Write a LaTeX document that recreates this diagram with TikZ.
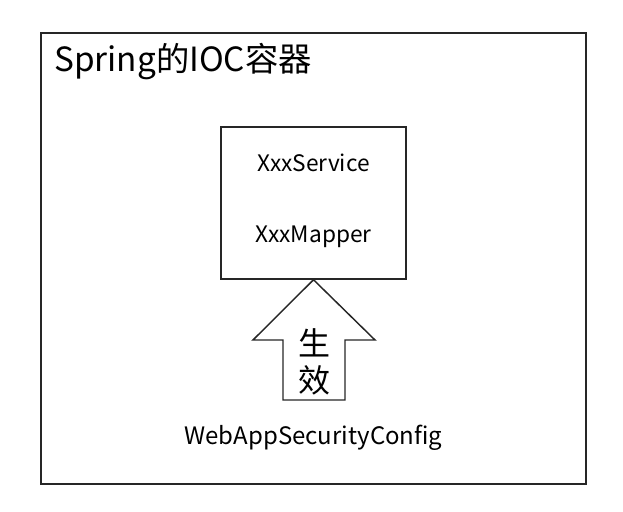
\documentclass[tikz,border=0pt]{standalone}
\usepackage{fontspec}
\setmainfont{Noto Sans CJK SC}
\usetikzlibrary{positioning, calc}

\begin{document}
\begin{tikzpicture}[
    x=0.75pt, y=-0.75pt,
    frame/.style={draw=black!85, line width=1.1pt},
    bean/.style={font=\fontsize{17}{20}\selectfont, inner sep=0pt},
    effect/.style={font=\fontsize{24}{27}\selectfont, inner sep=0pt}
]
\useasboundingbox (0,0) rectangle (623,511);

% Container
\draw[frame] (41,33) rectangle (586,484);
\node[anchor=west, inner sep=0pt, font=\fontsize{25}{29}\selectfont] (title) at (54,62) {Spring的IOC容器};

% Beans in the container
\node[frame, minimum width=138.75pt, minimum height=114pt] (beans) at (313.5,203) {};
\node[bean] (service) at (313.5,163) {XxxService};
\node[bean] (mapper) at (313.5,237) {XxxMapper};

% Config takes effect
\node[bean, font=\fontsize{18}{21}\selectfont] (config) at (313.5,438) {WebAppSecurityConfig};
\draw[frame, line join=miter] (beans.south) -- (375,340) -- (345,340) -- (345,400)
    -- (283,400) -- (283,340) -- (253,340) -- cycle;
\node[effect] (sheng) at (314,343) {生};
\node[effect] (xiao) at (314,380) {效};
\end{tikzpicture}
\end{document}
